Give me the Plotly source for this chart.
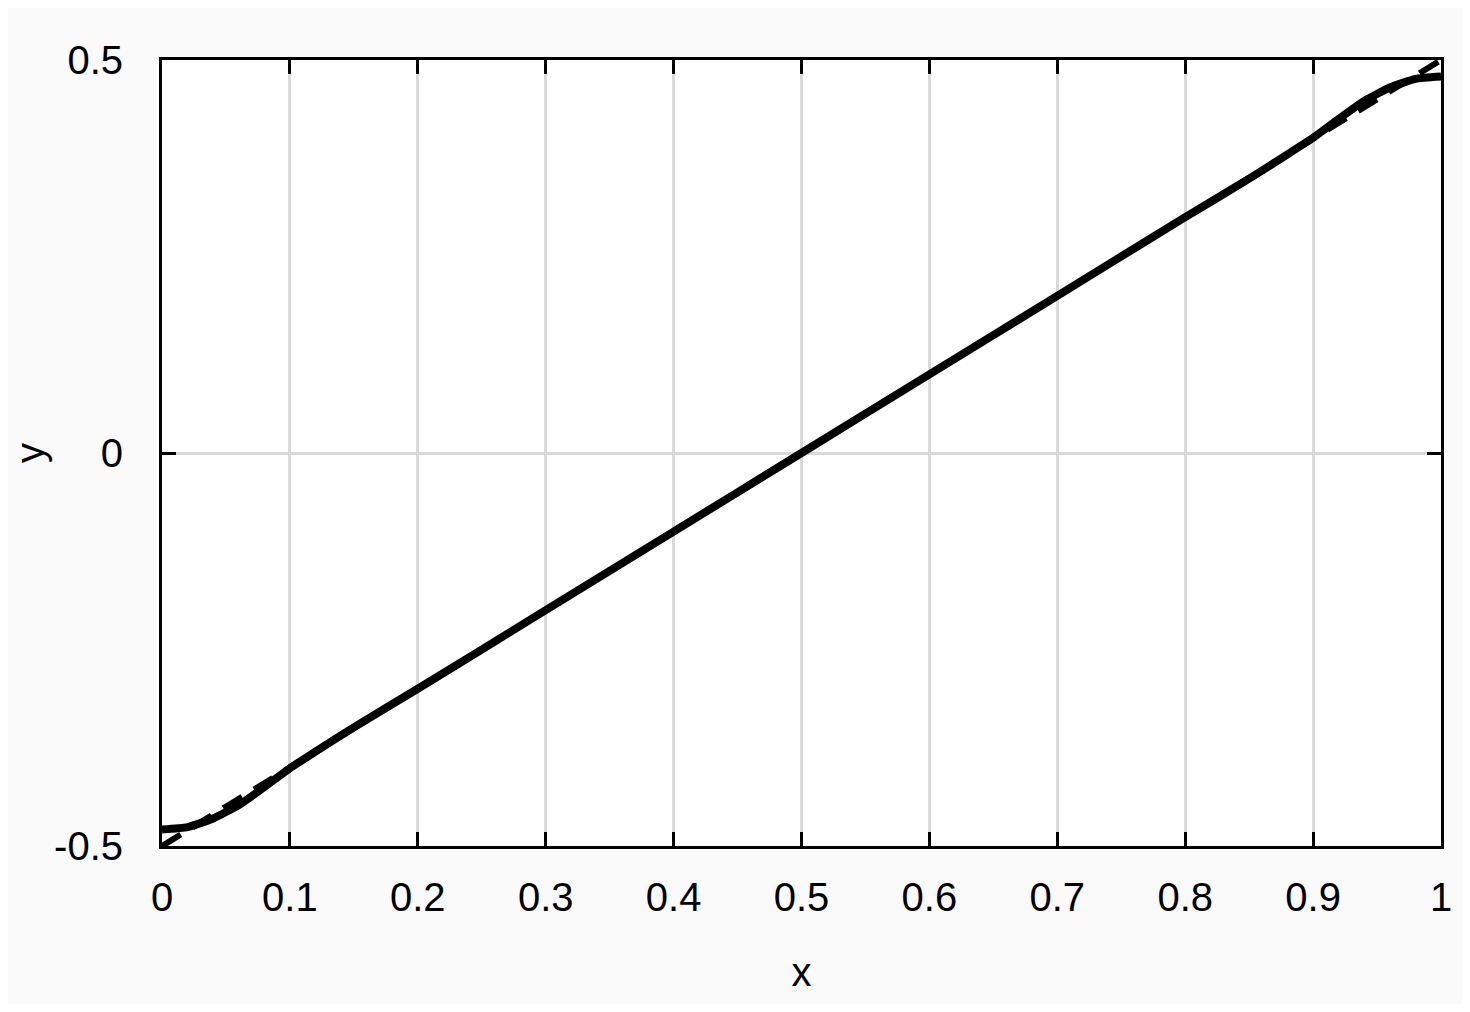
import plotly.graph_objects as go

# curva suave (linea continua)
x_suave = [0, 0.02, 0.04, 0.06, 0.08, 0.1, 0.12, 0.15,
           0.2, 0.3, 0.4, 0.5, 0.6, 0.7, 0.8,
           0.85, 0.88, 0.9, 0.92, 0.94, 0.96, 0.98, 1]
y_suave = [-0.479, -0.476, -0.465, -0.448, -0.425, -0.401, -0.380, -0.349,
           -0.3, -0.2, -0.1, 0.0, 0.1, 0.2, 0.3,
           0.349, 0.380, 0.401, 0.425, 0.448, 0.465, 0.476, 0.479]

# recta exacta (linea discontinua)
x_recta = [0, 1]
y_recta = [-0.5, 0.5]

x_ticks = [0, 0.1, 0.2, 0.3, 0.4, 0.5, 0.6, 0.7, 0.8, 0.9, 1]
x_ticktext = ['0', '0.1', '0.2', '0.3', '0.4', '0.5', '0.6', '0.7', '0.8', '0.9', '1']
y_ticks = [-0.5, 0, 0.5]
y_ticktext = ['-0.5', '0', '0.5']

fuente = 'Liberation Sans Narrow, Arial Narrow, Liberation Sans, sans-serif'
letra = dict(family=fuente, size=40, color='black')

fig = go.Figure()

fig.add_trace(go.Scatter(x=x_recta, y=y_recta, mode='lines',
                         line=dict(color='black', width=6, dash='22px,14px'),
                         showlegend=False))
fig.add_trace(go.Scatter(x=x_suave, y=y_suave, mode='lines',
                         line=dict(color='black', width=8, shape='spline', smoothing=0.5),
                         showlegend=False))

eje = dict(showline=True, linecolor='black', linewidth=3, mirror='ticks',
           ticks='inside', ticklen=14, tickwidth=3, tickcolor='black',
           showgrid=True, gridcolor='#d9d9d9', gridwidth=3, zeroline=False,
           automargin=False, tickfont=letra)

fig.update_xaxes(range=[0, 1], tickvals=x_ticks, ticktext=x_ticktext,
                 ticklabelstandoff=14,
                 title=dict(text='x', font=letra, standoff=40),
                 **eje)
fig.update_yaxes(range=[-0.5, 0.5], tickvals=y_ticks, ticktext=y_ticktext,
                 ticklabelstandoff=28,
                 title=dict(text='y', font=letra, standoff=12),
                 **eje)

fig.update_layout(width=1454, height=996,
                  margin=dict(l=154, r=21, t=52, b=158),
                  paper_bgcolor='#fafafa', plot_bgcolor='white',
                  font=letra)

fig.write_html("out.html")
